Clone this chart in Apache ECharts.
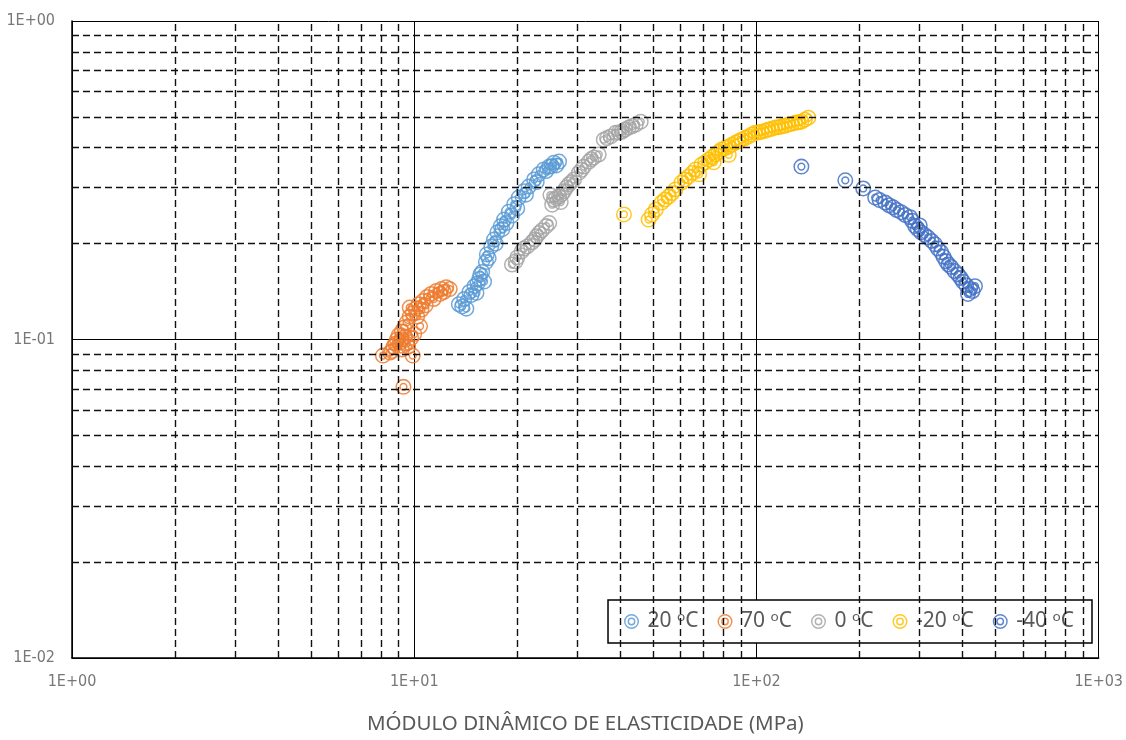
<!DOCTYPE html>
<html lang="pt">
<head>
  <meta charset="UTF-8">
  <title>Módulo dinâmico de elasticidade</title>
  <script src="https://cdn.jsdelivr.net/npm/echarts@6/dist/echarts.min.js"></script>
  <style>
    body { margin: 0; background: #fff; }
    #main { width: 1126px; height: 740px; }
  </style>
</head>
<body>
<div id="main"></div>
<script>
  // pontos [modulo (MPa), y]
  var t20 = [[13.5,0.129],[14.0,0.134],[14.5,0.141],[15.0,0.147],[15.5,0.155],[15.8,0.163],[16.2,0.175],
    [16.3,0.185],[16.8,0.196],[17.1,0.206],[17.5,0.217],[17.9,0.227],[18.3,0.238],[18.9,0.252],[19.6,0.266],
    [20.2,0.279],[20.9,0.292],[21.6,0.302],[22.4,0.318],[23.1,0.330],[23.9,0.342],[24.8,0.349],[25.6,0.359],
    [26.5,0.362],[14.2,0.125],[15.2,0.140],[16.0,0.152],
    [13.8,0.127],[14.7,0.138],[15.3,0.150],[15.6,0.160],[16.5,0.180],[17.3,0.200],[18.1,0.222],[18.6,0.232],
    [19.3,0.245],[20.0,0.258],[21.2,0.285],[22.8,0.312],[24.3,0.338],[25.2,0.350],[26.0,0.352]];
  var t70 = [[9.3,0.071],[8.1,0.089],[9.9,0.089],[8.6,0.092],[8.8,0.097],[8.9,0.100],[9.0,0.103],[9.2,0.106],
    [9.35,0.109],[9.5,0.113],[9.7,0.118],[9.9,0.121],[10.1,0.125],[10.3,0.129],[10.6,0.132],[10.9,0.136],
    [11.2,0.139],[11.6,0.142],[12.0,0.144],[12.4,0.146],[12.7,0.144],[9.7,0.126],[8.5,0.091],[9.2,0.093],
    [9.6,0.095],[9.1,0.098],[9.8,0.101],[10.0,0.104],[9.4,0.102],
    [10.2,0.118],[10.5,0.124],[10.8,0.128],[11.4,0.134],[11.9,0.139],[12.2,0.141],[9.2,0.100],[8.7,0.095],
    [9.5,0.097],[10.4,0.110]];
  var t0 = [[19.3,0.172],[20.0,0.181],[20.6,0.189],[21.4,0.196],[22.1,0.202],[22.8,0.211],[23.6,0.220],
    [24.3,0.227],[24.8,0.232],[25.6,0.275],[26.5,0.281],[27.4,0.292],[28.3,0.307],[29.3,0.318],[30.3,0.334],
    [31.3,0.349],[32.4,0.362],[33.5,0.373],[34.6,0.381],[35.8,0.424],[37.5,0.434],[38.8,0.446],[40.4,0.449],
    [42.4,0.463],[44.4,0.473],[45.9,0.483],[25.3,0.265],[26.8,0.270],
    [19.8,0.176],[20.9,0.193],[22.5,0.206],[23.2,0.216],[26.0,0.278],[27.0,0.286],[28.8,0.312],[30.8,0.341],
    [32.9,0.368],[36.6,0.429],[39.6,0.447],[41.3,0.456],[43.4,0.468],[25.0,0.284],[27.8,0.300]];
  var tm20 = [[41.0,0.247],[48.4,0.238],[50.8,0.256],[52.8,0.269],[55.4,0.281],[58.0,0.296],[60.4,0.311],
    [63.4,0.325],[66.4,0.342],[69.1,0.354],[72.5,0.367],[76.0,0.381],[79.1,0.395],[82.9,0.403],[86.9,0.415],
    [90.4,0.424],[94.8,0.434],[99.3,0.446],[103.4,0.449],[108.4,0.456],[113.6,0.463],[118.3,0.466],
    [124.0,0.473],[129.9,0.479],[135.3,0.483],[141.8,0.497],
    [49.5,0.247],[54.0,0.275],[56.7,0.288],[61.8,0.318],[64.9,0.333],[70.8,0.360],[74.2,0.374],[77.5,0.388],
    [81.0,0.399],[84.8,0.409],[88.6,0.419],[92.6,0.429],[97.0,0.440],[101.3,0.447],[106.0,0.452],[111.0,0.459],
    [116.0,0.464],[121.0,0.469],[127.0,0.476],[132.6,0.481],[138.5,0.490],[68.0,0.330],[75.0,0.360],[83.0,0.380]];
  var tm40 = [[135.3,0.349],[181.8,0.316],[205.1,0.298],[222.3,0.279],[237.8,0.269],[250.9,0.260],[264.7,0.251],
    [281.2,0.242],[290.8,0.227],[302.7,0.217],[317.3,0.209],[332.6,0.199],[346.3,0.188],[358.1,0.176],
    [370.3,0.169],[388.2,0.160],[401.4,0.152],[420.7,0.144],[435.1,0.147],[415.1,0.139],
    [229,0.274],[244,0.264],[257,0.255],[272,0.246],[296,0.222],[310,0.213],[325,0.204],[339,0.193],
    [352,0.182],[364,0.172],[379,0.164],[395,0.156],[410,0.148],[428,0.142],[285,0.236],[300,0.228]];

  var nomes = ['20 \u1d52C', '70 \u1d52C', '0 \u1d52C', '-20 \u1d52C', '-40 \u1d52C'];
  var cores = ['#5B9BD5', '#ED7D31', '#A5A5A5', '#FFC000', '#4472C4'];
  var dados = [t20, t70, t0, tm20, tm40];

  // linhas de grade secundarias (2..9 de cada decada)
  var gradeX = [], gradeY = [];
  [1, 10, 100].forEach(function (d) {
    for (var k = 2; k <= 9; k++) gradeX.push(k * d);
  });
  [0.01, 0.1].forEach(function (d) {
    for (var k = 2; k <= 9; k++) gradeY.push(+(k * d).toFixed(3));
  });

  // circulo duplo
  var anel = 'path://M0,-10A10,10 0 1,1 0,10A10,10 0 1,1 0,-10Z' +
    'M0,-8.1A8.1,8.1 0 1,0 0,8.1A8.1,8.1 0 1,0 0,-8.1Z' +
    'M0,-5.2A5.2,5.2 0 1,1 0,5.2A5.2,5.2 0 1,1 0,-5.2Z' +
    'M0,-3.3A3.3,3.3 0 1,0 0,3.3A3.3,3.3 0 1,0 0,-3.3Z';

  function expo(v) {
    var e = Math.round(Math.log10(v));
    return '1E' + (e < 0 ? '-' : '+') + (Math.abs(e) < 10 ? '0' : '') + Math.abs(e);
  }

  var linhas = gradeX.map(function (v) { return { xAxis: v }; })
    .concat(gradeY.map(function (v) { return { yAxis: v }; }));

  var series = [{
    type: 'scatter',
    data: [],
    z: 1,
    silent: true,
    markLine: {
      silent: true,
      symbol: 'none',
      label: { show: false },
      lineStyle: { color: '#111', type: [7, 4], width: 1.4 },
      animation: false,
      data: linhas
    }
  }];
  for (var i = 0; i < dados.length; i++) {
    series.push({
      name: nomes[i],
      type: 'scatter',
      data: dados[i],
      symbol: anel,
      symbolSize: 16,
      z: 3,
      itemStyle: { color: cores[i], opacity: 0.85 }
    });
  }

  var chart = echarts.init(document.getElementById('main'));
  chart.setOption({
    animation: false,
    textStyle: { fontFamily: 'Liberation Sans Narrow, DejaVu Sans Condensed, sans-serif' },
    grid: { left: 72, right: 26, top: 21, bottom: 80 },
    legend: {
      data: nomes,
      right: 34,
      top: 600,
      orient: 'horizontal',
      backgroundColor: '#fff',
      borderColor: '#000',
      borderWidth: 1.5,
      borderRadius: 0,
      padding: [11, 18, 11, 16],
      itemGap: 19,
      itemWidth: 15,
      itemHeight: 15,
      formatter: '\u2009{name}',
      textStyle: {
        fontFamily: 'Noto Sans, DejaVu Sans',
        fontSize: 21,
        color: '#595959'
      }
    },
    xAxis: {
      type: 'log',
      logBase: 10,
      min: 1,
      max: 1000,
      name: 'MÓDULO DINÂMICO DE ELASTICIDADE (MPa)',
      nameLocation: 'middle',
      nameGap: 56,
      nameTextStyle: { fontSize: 20.5, color: '#595959', fontFamily: 'Noto Sans' },
      axisLine: { lineStyle: { color: '#000', width: 1.5 } },
      axisTick: { show: false },
      axisLabel: { formatter: expo, color: '#777', fontSize: 16, margin: 16 },
      splitLine: { show: true, lineStyle: { color: '#000', width: 1 } }
    },
    yAxis: {
      type: 'log',
      logBase: 10,
      min: 0.01,
      max: 1,
      axisLine: { show: true, lineStyle: { color: '#000', width: 1.5 } },
      axisTick: { show: false },
      axisLabel: { formatter: expo, color: '#777', fontSize: 16, margin: 17 },
      splitLine: { show: true, lineStyle: { color: '#000', width: 1 } }
    },
    series: series
  });
</script>
</body>
</html>
